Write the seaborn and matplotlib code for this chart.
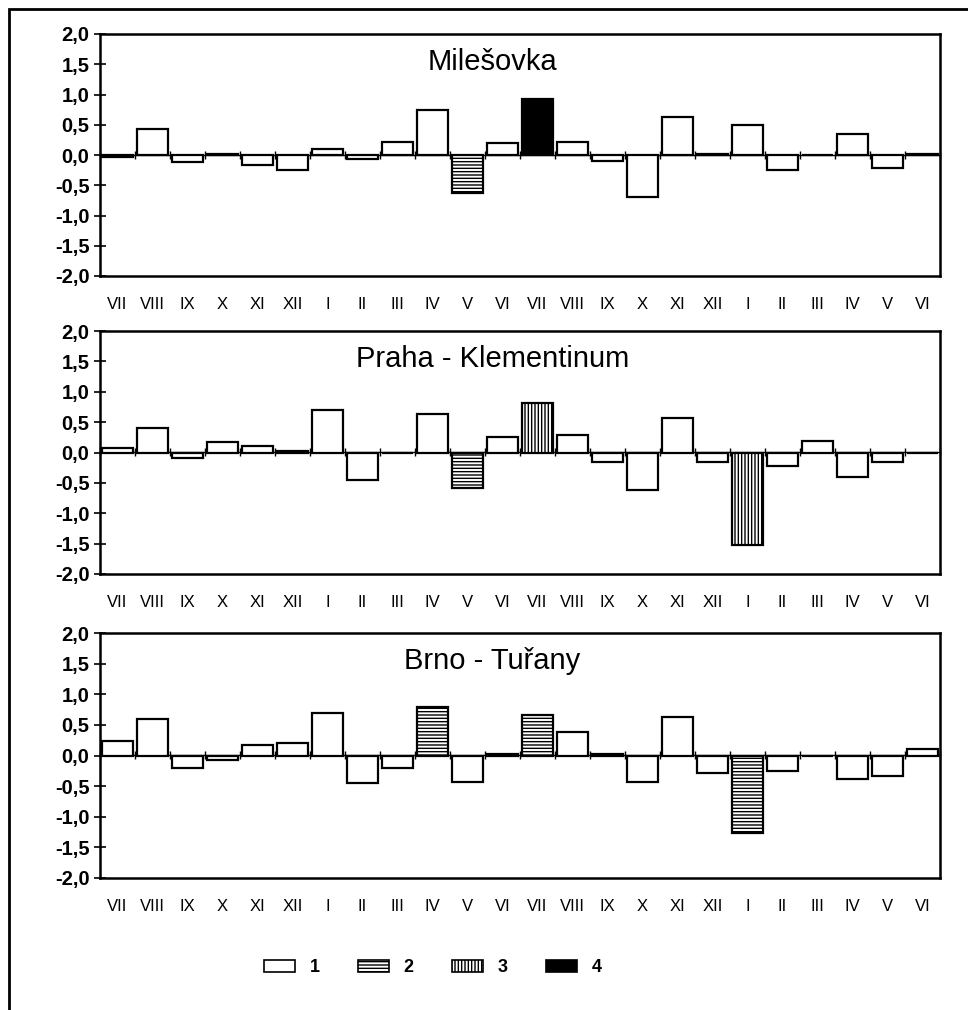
import numpy as np
import pandas as pd
import seaborn as sns
import matplotlib.pyplot as plt
import matplotlib.patches as mpatches

sns.set_style("white")
plt.rcParams['font.family'] = ['Liberation Sans', 'DejaVu Sans']
plt.rcParams['hatch.linewidth'] = 1.0
plt.rcParams['text.color'] = 'black'
plt.rcParams['xtick.color'] = 'black'
plt.rcParams['ytick.color'] = 'black'
plt.rcParams['axes.edgecolor'] = 'black'

months = ["VII", "VIII", "IX", "X", "XI", "XII", "I", "II", "III", "IV", "V", "VI",
          "VII", "VIII", "IX", "X", "XI", "XII", "I", "II", "III", "IV", "V", "VI"]
stations = ["Milešovka", "Praha - Klementinum", "Brno - Tuřany"]

milesovka = [-0.03, 0.43, -0.11, 0.01, -0.17, -0.24, 0.10, -0.07, 0.22, 0.74, -0.62, 0.20,
             0.92, 0.22, -0.10, -0.69, 0.62, 0.02, 0.50, -0.24, 0.0, 0.35, -0.21, 0.02]
milesovka_cat = [1, 1, 1, 1, 1, 1, 1, 1, 1, 1, 2, 1,
                 4, 1, 1, 1, 1, 1, 1, 1, 1, 1, 1, 1]

praha = [0.08, 0.41, -0.09, 0.18, 0.10, 0.03, 0.70, -0.46, 0.0, 0.63, -0.59, 0.26,
         0.81, 0.28, -0.15, -0.61, 0.56, -0.16, -1.53, -0.23, 0.19, -0.40, -0.16, 0.0]
praha_cat = [1, 1, 1, 1, 1, 1, 1, 1, 1, 1, 2, 1,
             3, 1, 1, 1, 1, 1, 3, 1, 1, 1, 1, 1]

brno = [0.23, 0.60, -0.21, -0.08, 0.17, 0.21, 0.69, -0.45, -0.21, 0.80, -0.43, 0.03,
        0.66, 0.39, 0.02, -0.43, 0.63, -0.29, -1.26, -0.25, 0.0, -0.39, -0.34, 0.11]
brno_cat = [1, 1, 1, 1, 1, 1, 1, 1, 1, 2, 1, 1,
            2, 1, 1, 1, 1, 1, 2, 1, 1, 1, 1, 1]

y_ticks = [-2.0, -1.5, -1.0, -0.5, 0.0, 0.5, 1.0, 1.5, 2.0]
y_labels = ["-2,0", "-1,5", "-1,0", "-0,5", "0,0", "0,5", "1,0", "1,5", "2,0"]

legend_labels = ["1", "2", "3", "4"]

styles = {1: dict(facecolor="white", hatch=None),
          2: dict(facecolor="white", hatch="-----"),
          3: dict(facecolor="white", hatch="|||||"),
          4: dict(facecolor="black", hatch=None)}

df = pd.DataFrame({
    "station": np.repeat(stations, 24),
    "pos": list(range(24)) * 3,
    "value": milesovka + praha + brno,
    "cat": milesovka_cat + praha_cat + brno_cat,
})

fig = plt.figure(figsize=(9.68, 10.1), dpi=100)

# page frame
fig.add_artist(mpatches.Rectangle((9 / 968, -0.02), 1.05, 1 - 9 / 1010 + 0.02,
                                  transform=fig.transFigure, fill=False,
                                  edgecolor="black", linewidth=2))

tops = [34, 331, 633]
heights = [242, 243, 245]
left, width = 100 / 968, 840 / 968

for station, top, h in zip(stations, tops, heights):
    ax = fig.add_axes([left, 1 - (top + h) / 1010, width, h / 1010])
    sub = df[df.station == station]
    sns.barplot(x="pos", y="value", data=sub, order=list(range(24)), color="white",
                edgecolor="black", linewidth=1.6, width=0.88, ax=ax)
    for patch, c in zip(ax.patches, sub["cat"]):
        patch.set_facecolor(styles[c]["facecolor"])
        if styles[c]["hatch"]:
            patch.set_hatch(styles[c]["hatch"])

    ax.set_xlim(-0.5, 23.5)
    ax.set_ylim(-2, 2)
    ax.set_yticks(y_ticks)
    ax.set_yticklabels(y_labels, fontsize=14.5, fontweight="bold")
    ax.set_xticks(range(24))
    ax.set_xticklabels(months, fontsize=12)
    ax.tick_params(axis="x", length=0, pad=15)
    ax.tick_params(axis="y", direction="inout", length=9, width=1.2, pad=3, left=True)
    ax.set_xlabel("")
    ax.set_ylabel("")
    for s in ax.spines.values():
        s.set_visible(True)
        s.set_linewidth(1.8)
        s.set_color("black")

    # zero line with category ticks
    sec = ax.secondary_xaxis(0.5)
    sec.set_xticks(np.arange(-0.5, 24, 1))
    sec.tick_params(direction="inout", length=6, width=1, labelbottom=False, labeltop=False)
    for s in sec.spines.values():
        s.set_linewidth(1)

    ax.text(0.467, 0.885, station, transform=ax.transAxes, ha="center", va="center",
            fontsize=21)

handles = [mpatches.Patch(facecolor=styles[k]["facecolor"], hatch=styles[k]["hatch"],
                          edgecolor="black", linewidth=1.2) for k in [1, 2, 3, 4]]
fig.legend(handles, legend_labels, loc="center", bbox_to_anchor=(0.447, 0.042), ncol=4,
           frameon=False, handlelength=1.75, handleheight=0.65, columnspacing=2.1,
           handletextpad=0.8, prop={"size": 13, "weight": "bold"})

fig.savefig("out.png", dpi=100)
